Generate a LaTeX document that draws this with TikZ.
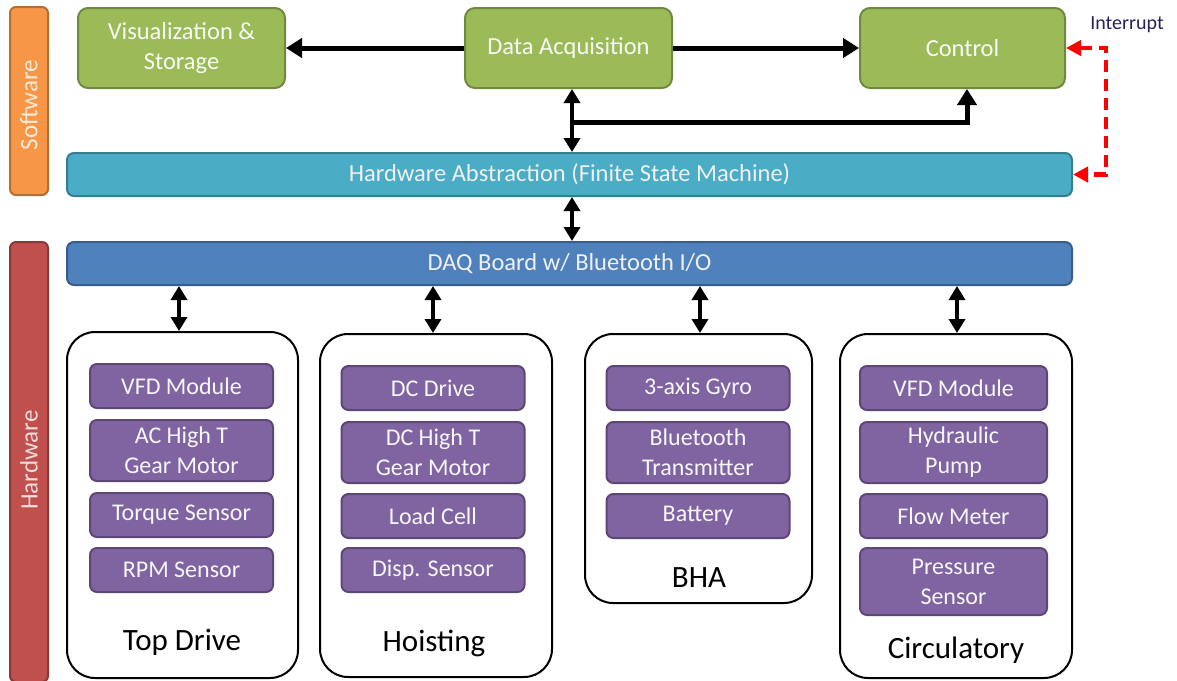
\documentclass[tikz,border=0pt]{standalone}
\usepackage{fontspec}
\setmainfont{Carlito}
\usetikzlibrary{arrows.meta}
\definecolor{swfill}{HTML}{F79646}
\definecolor{swline}{HTML}{B66D31}
\definecolor{hwfill}{HTML}{C0504D}
\definecolor{hwline}{HTML}{8C3836}
\definecolor{grfill}{HTML}{9BBB59}
\definecolor{grline}{HTML}{71893F}
\definecolor{cyfill}{HTML}{4BACC6}
\definecolor{cyline}{HTML}{357D91}
\definecolor{blfill}{HTML}{4F81BD}
\definecolor{blline}{HTML}{385D8A}
\definecolor{pufill}{HTML}{8064A2}
\definecolor{puline}{HTML}{5C4776}
\definecolor{intcol}{HTML}{2A1F5A}
\tikzset{
  layerbar/.style={draw, line width=2pt, rounded corners=6pt, inner sep=0pt},
  sidelabel/.style={rotate=90, font=\fontsize{25}{28}\selectfont},
  swbox/.style={draw=grline, fill=grfill, line width=2pt, rounded corners=10pt,
    minimum height=80pt, text=white!94!grfill, align=center, font=\fontsize{24.5}{30}\selectfont, inner sep=0pt},
  widebar/.style={line width=2pt, rounded corners=7pt, minimum width=1005pt,
    minimum height=43pt, text=white!94!black, font=\fontsize{24.5}{28}\selectfont, inner sep=0pt},
  group/.style={draw=black, line width=2pt, rounded corners=28pt, fill=white, inner sep=0pt},
  item/.style={draw=puline, fill=pufill, line width=2pt, rounded corners=7pt,
    minimum width=183pt, minimum height=44pt, text=white!94!pufill, align=center,
    font=\fontsize{24}{30}\selectfont, inner sep=0pt},
  grouplabel/.style={font=\fontsize{31}{34}\selectfont, text=black},
  flow/.style={line width=5pt, -{Triangle[length=16pt,width=19pt]}},
  duplex/.style={line width=4.5pt, {Triangle[length=14pt,width=16pt]}-{Triangle[length=14pt,width=16pt]}},
  irq/.style={draw=red, line width=4.5pt, dash pattern=on 12pt off 7pt,
    {Triangle[length=15pt,width=15pt]}-{Triangle[length=15pt,width=15pt]}, red}
}
\begin{document}
\begin{tikzpicture}[x=1pt,y=-1pt]
\useasboundingbox (0,0) rectangle (1177,680);

% layer side bars
\node[layerbar, draw=swline, fill=swfill, minimum width=38pt, minimum height=188pt] (sw) at (29,101) {};
\node[sidelabel, text=white!80!swfill] at (29,105) {Software};
\node[layerbar, draw=hwline, fill=hwfill, minimum width=38pt, minimum height=440pt] (hw) at (29,462) {};
\node[sidelabel, text=white!80!hwfill] at (29,460) {Hardware};

% software blocks
\node[swbox, minimum width=207pt] (vis) at (181.5,48) {Visualization \&\\Storage};
\node[swbox, minimum width=207pt] (daq) at (568.5,48) {Data Acquisition};
\node[swbox, minimum width=205pt] (ctl) at (962.5,48) {Control};

% horizontal bars
\node[widebar, draw=cyline, fill=cyfill] (hal) at (569.5,174.5) {Hardware Abstraction (Finite State Machine)};
\node[widebar, draw=blline, fill=blfill] (board) at (569.5,263.5) {DAQ Board w/ Bluetooth I/O};

% hardware groups
\node[group, minimum width=231pt, minimum height=346pt] (gtd) at (182.5,505) {};
\node[group, minimum width=232pt, minimum height=343pt] (gho) at (436,505.5) {};
\node[group, minimum width=227pt, minimum height=269pt] (gbha) at (698.5,468.5) {};
\node[group, minimum width=232pt, minimum height=344pt] (gci) at (956,506) {};

\node[grouplabel] (ltd) at (182,642) {Top Drive};
\node[grouplabel] (lho) at (434,643) {Hoisting};
\node[grouplabel] (lbha) at (699,578) {BHA};
\node[grouplabel] (lci) at (956,650) {Circulatory};

% top drive items
\node[item] (td1) at (181.5,386) {VFD Module};
\node[item, minimum height=61pt] (td2) at (181.5,450.5) {AC High T\\Gear Motor};
\node[item] (td3) at (181.5,515) {Torque Sensor};
\node[item] (td4) at (181.5,570) {RPM Sensor};
% hoisting items
\node[item] (ho1) at (433,388) {DC Drive};
\node[item, minimum height=61pt] (ho2) at (433,452.5) {DC High T\\Gear Motor};
\node[item] (ho3) at (433,516) {Load Cell};
\node[item] (ho4) at (433,570) {Disp. Sensor};
% BHA items
\node[item] (bh1) at (698,388) {3-axis Gyro};
\node[item, minimum height=61pt] (bh2) at (698,452.5) {Bluetooth\\Transmitter};
\node[item] (bh3) at (698,516) {Battery};
% circulatory items
\node[item, minimum width=187pt] (ci1) at (953.5,388) {VFD Module};
\node[item, minimum width=187pt, minimum height=61pt] (ci2) at (953.5,452.5) {Hydraulic\\Pump};
\node[item, minimum width=187pt] (ci3) at (953.5,516) {Flow Meter};
\node[item, minimum width=187pt, minimum height=67pt] (ci4) at (953.5,581.5) {Pressure\\Sensor};

% software data flow
\draw[flow] (daq.west) -- (vis.east);
\draw[flow] (daq.east) -- (ctl.west);
\draw[duplex] (daq.south -| 572,0) -- (hal.north -| 572,0);
\coordinate (split) at (572,122);
\draw[flow] (split) -| (ctl.south -| 967,0);
\draw[duplex] (hal.south -| 572,0) -- (board.north -| 572,0);

% board to subsystems
\draw[duplex] (board.south -| 179,0) -- (gtd.north -| 179,0);
\draw[duplex] (board.south -| 433,0) -- (gho.north -| 433,0);
\draw[duplex] (board.south -| 700,0) -- (gbha.north -| 700,0);
\draw[duplex] (board.south -| 957,0) -- (gci.north -| 957,0);

% interrupt line
\coordinate (irqtop) at (1106,48);
\draw[irq] (ctl.east) -- (irqtop) |- (hal.east);
\node[text=intcol, font=\fontsize{20}{24}\selectfont] (irqlabel) at (1127,25) {Interrupt};
\end{tikzpicture}
\end{document}
